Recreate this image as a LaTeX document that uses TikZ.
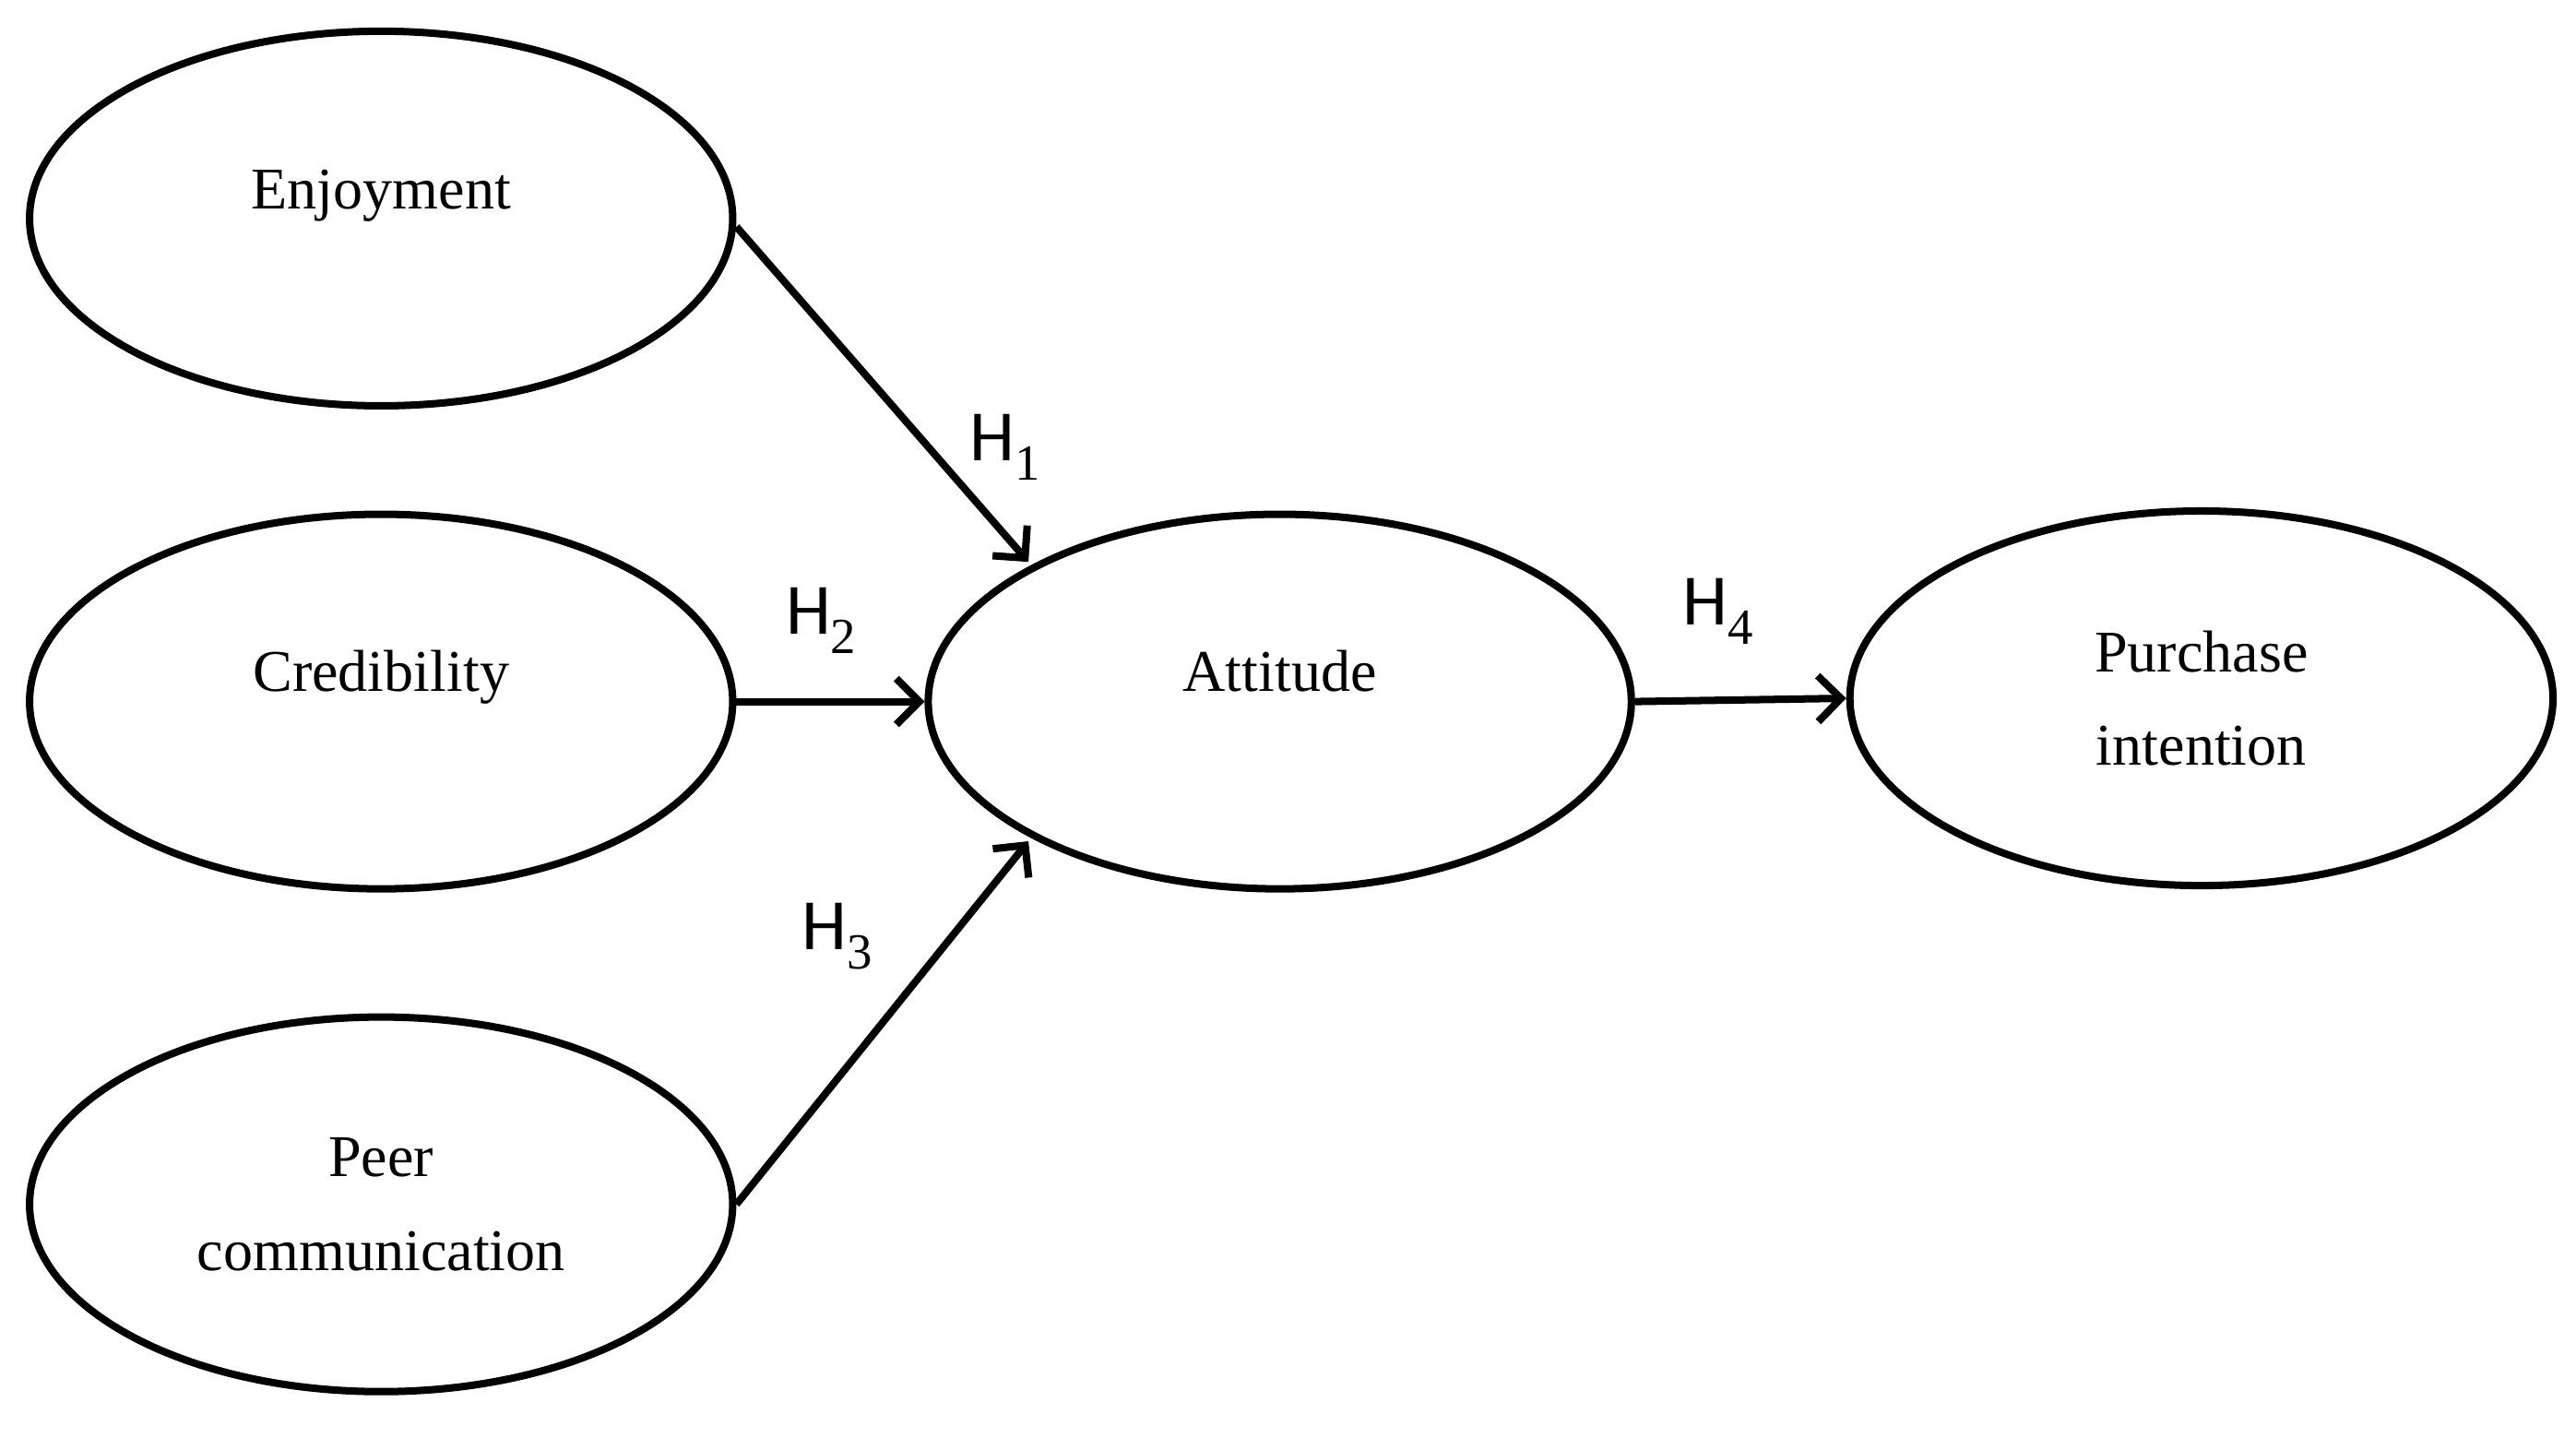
\documentclass[tikz,border=0pt]{standalone}
\usepackage{fontspec}
\setmainfont{Liberation Serif}
\newfontfamily\hfont{Carlito}
\usetikzlibrary{arrows.meta,shapes.geometric}
\begin{document}
\begin{tikzpicture}[x=1pt,y=-1pt,
  ell/.style={draw,line width=4.5pt,ellipse,minimum width=428pt,minimum height=228pt,align=center,font=\fontsize{36}{57}\selectfont},
  up/.style={text height=26pt,text depth=38pt},
  con/.style={line width=4.5pt,-{Straight Barb[length=14pt,width=28pt,line width=4.5pt]}},
  hl/.style={font=\hfont\fontsize{44}{44}\selectfont}]
\useasboundingbox (0,0) rectangle (1568,875);
\node[ell,up] (enj) at (232,133) {Enjoyment};
\node[ell,up] (cred) at (232,427) {Credibility};
\node[ell] (peer) at (232,733) {Peer\\communication};
\node[ell,up] (att) at (779,427) {Attitude};
\node[ell] (pi) at (1340,425) {Purchase\\intention};
\coordinate (a1) at (626,342);
\coordinate (a3) at (626,512);
\draw[con] (enj.east) ++(0,5) -- (a1);
\draw[con] (cred.east) -- (att.west);
\draw[con] (peer.east) -- (a3);
\draw[con] (att.east) -- (pi.west);
\node[hl] (h1) at (612,272) {H$_{\mathrm{1}}$};
\node[hl] (h2) at (500,378) {H$_{\mathrm{2}}$};
\node[hl] (h3) at (510,570) {H$_{\mathrm{3}}$};
\node[hl] (h4) at (1046,372) {H$_{\mathrm{4}}$};
\end{tikzpicture}
\end{document}
